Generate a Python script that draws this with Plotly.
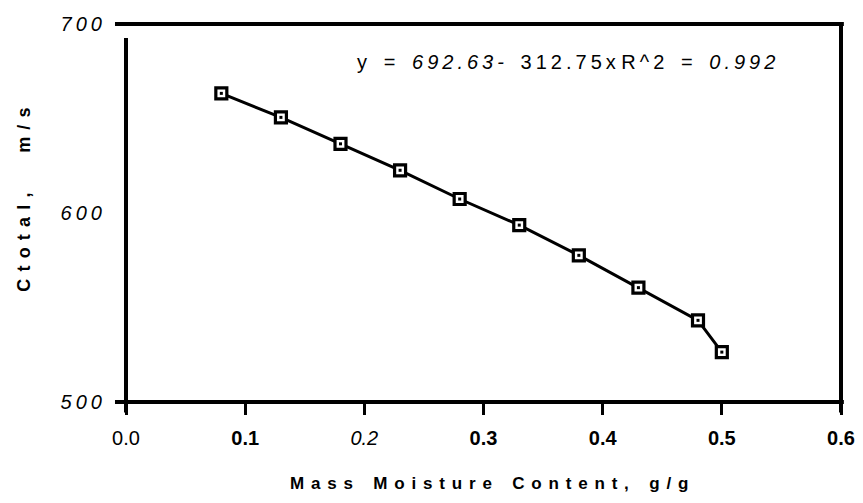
import plotly.graph_objects as go

# Data
moisture = [0.08, 0.13, 0.18, 0.23, 0.28, 0.33, 0.38, 0.43, 0.48, 0.50]
ctotal = [663.3, 650.6, 636.6, 622.6, 607.4, 593.6, 577.6, 560.5, 543.2, 526.4]

TS = "\u2009"
NB = "\u00a0"

x_tickvals = [0.0, 0.1, 0.2, 0.3, 0.4, 0.5, 0.6]
x_ticktext = ["0.0", "<b>0.1</b>", "<i>0.2</i>", "<b>0.3</b>", "<b>0.4</b>", "<b>0.5</b>", "<b>0.6</b>"]
y_tickvals = [500, 600, 700]
y_ticktext = ["<i>5" + TS + "0" + TS + "0</i>", "<i>6" + TS + "0" + TS + "0</i>", "<i>7" + TS + "0" + TS + "0</i>"]

x_title = "Mass Moisture Content, g/g"
y_title = "Ctotal,   m/s"

FONT = "Liberation Sans, Arial, sans-serif"


def spaced(s, gap=2, word=3, sp=TS):
    out = []
    for ch in s:
        if ch == " ":
            out.append(sp * word)
        else:
            out.append(ch + sp * gap)
    return "".join(out).rstrip(sp)


eq_parts = [
    ("y", ""), ("gap", ""), ("=", ""), ("gap", ""), ("692.63-", "i"), ("gap", ""),
    ("312.75x", ""), ("small", ""), ("R^2", ""), ("gap", ""), ("=", ""), ("gap", ""),
    ("0.992", "i"),
]
equation = ""
for txt, style in eq_parts:
    if txt == "gap":
        equation += NB * 3
    elif txt == "small":
        equation += NB
    else:
        s = spaced(txt, gap=1, word=1, sp=TS)
        equation += "<i>" + s + "</i>" if style == "i" else s

fig = go.Figure()
fig.add_trace(go.Scatter(
    x=moisture, y=ctotal, mode="lines",
    line=dict(color="black", width=3), hoverinfo="skip", showlegend=False))
fig.add_trace(go.Scatter(
    x=moisture, y=ctotal, mode="markers",
    marker=dict(symbol="square", size=11, color="white",
                line=dict(color="black", width=3.2)),
    showlegend=False))
fig.add_trace(go.Scatter(
    x=moisture, y=ctotal, mode="markers",
    marker=dict(symbol="square", size=3, color="black"),
    showlegend=False))

lw = 4
shapes = [
    dict(type="line", xref="paper", yref="paper", x0=-0.0154, x1=1.004, y0=1, y1=1,
         line=dict(color="black", width=lw)),
    dict(type="line", xref="paper", yref="paper", x0=-0.0154, x1=1.004, y0=0, y1=0,
         line=dict(color="black", width=lw)),
    dict(type="line", xref="paper", yref="paper", x0=0, x1=0, y0=0.963, y1=-0.028,
         line=dict(color="black", width=lw)),
    dict(type="line", xref="paper", yref="paper", x0=1, x1=1, y0=1.003, y1=-0.028,
         line=dict(color="black", width=lw)),
]

annotations = [
    dict(text=equation, xref="paper", yref="paper", x=0.616, y=0.9003,
         xanchor="center", yanchor="middle", showarrow=False,
         font=dict(family=FONT, size=20, color="black")),
    dict(text="<b>" + spaced(x_title, gap=2, word=4) + "</b>", xref="paper", yref="paper",
         x=0.508, y=-0.2143, xanchor="center", yanchor="middle", showarrow=False,
         font=dict(family=FONT, size=17, color="black")),
    dict(text="<b>" + spaced(y_title, gap=2, word=3) + "</b>", xref="paper", yref="paper",
         x=-0.1427, y=0.535, xanchor="center", yanchor="middle", showarrow=False,
         textangle=-90, font=dict(family=FONT, size=18, color="black")),
]

fig.update_layout(
    width=847, height=487,
    margin=dict(l=118, r=14, t=16, b=93, autoexpand=False),
    paper_bgcolor="white", plot_bgcolor="white",
    shapes=shapes, annotations=annotations,
    font=dict(family=FONT, color="black"),
    xaxis=dict(range=[0, 0.6], tickvals=x_tickvals, ticktext=x_ticktext,
               ticks="outside", ticklen=12, tickwidth=3, tickcolor="black",
               ticklabelstandoff=6, automargin=False, ticklabeloverflow="allow",
               showgrid=False, zeroline=False, showline=False,
               tickfont=dict(family=FONT, size=20, color="black")),
    yaxis=dict(range=[500, 700], tickvals=y_tickvals, ticktext=y_ticktext,
               ticks="", showgrid=False, zeroline=False, showline=False,
               ticklabelstandoff=23, automargin=False, ticklabeloverflow="allow",
               tickfont=dict(family=FONT, size=20, color="black")),
)

fig.write_html("out.html")
